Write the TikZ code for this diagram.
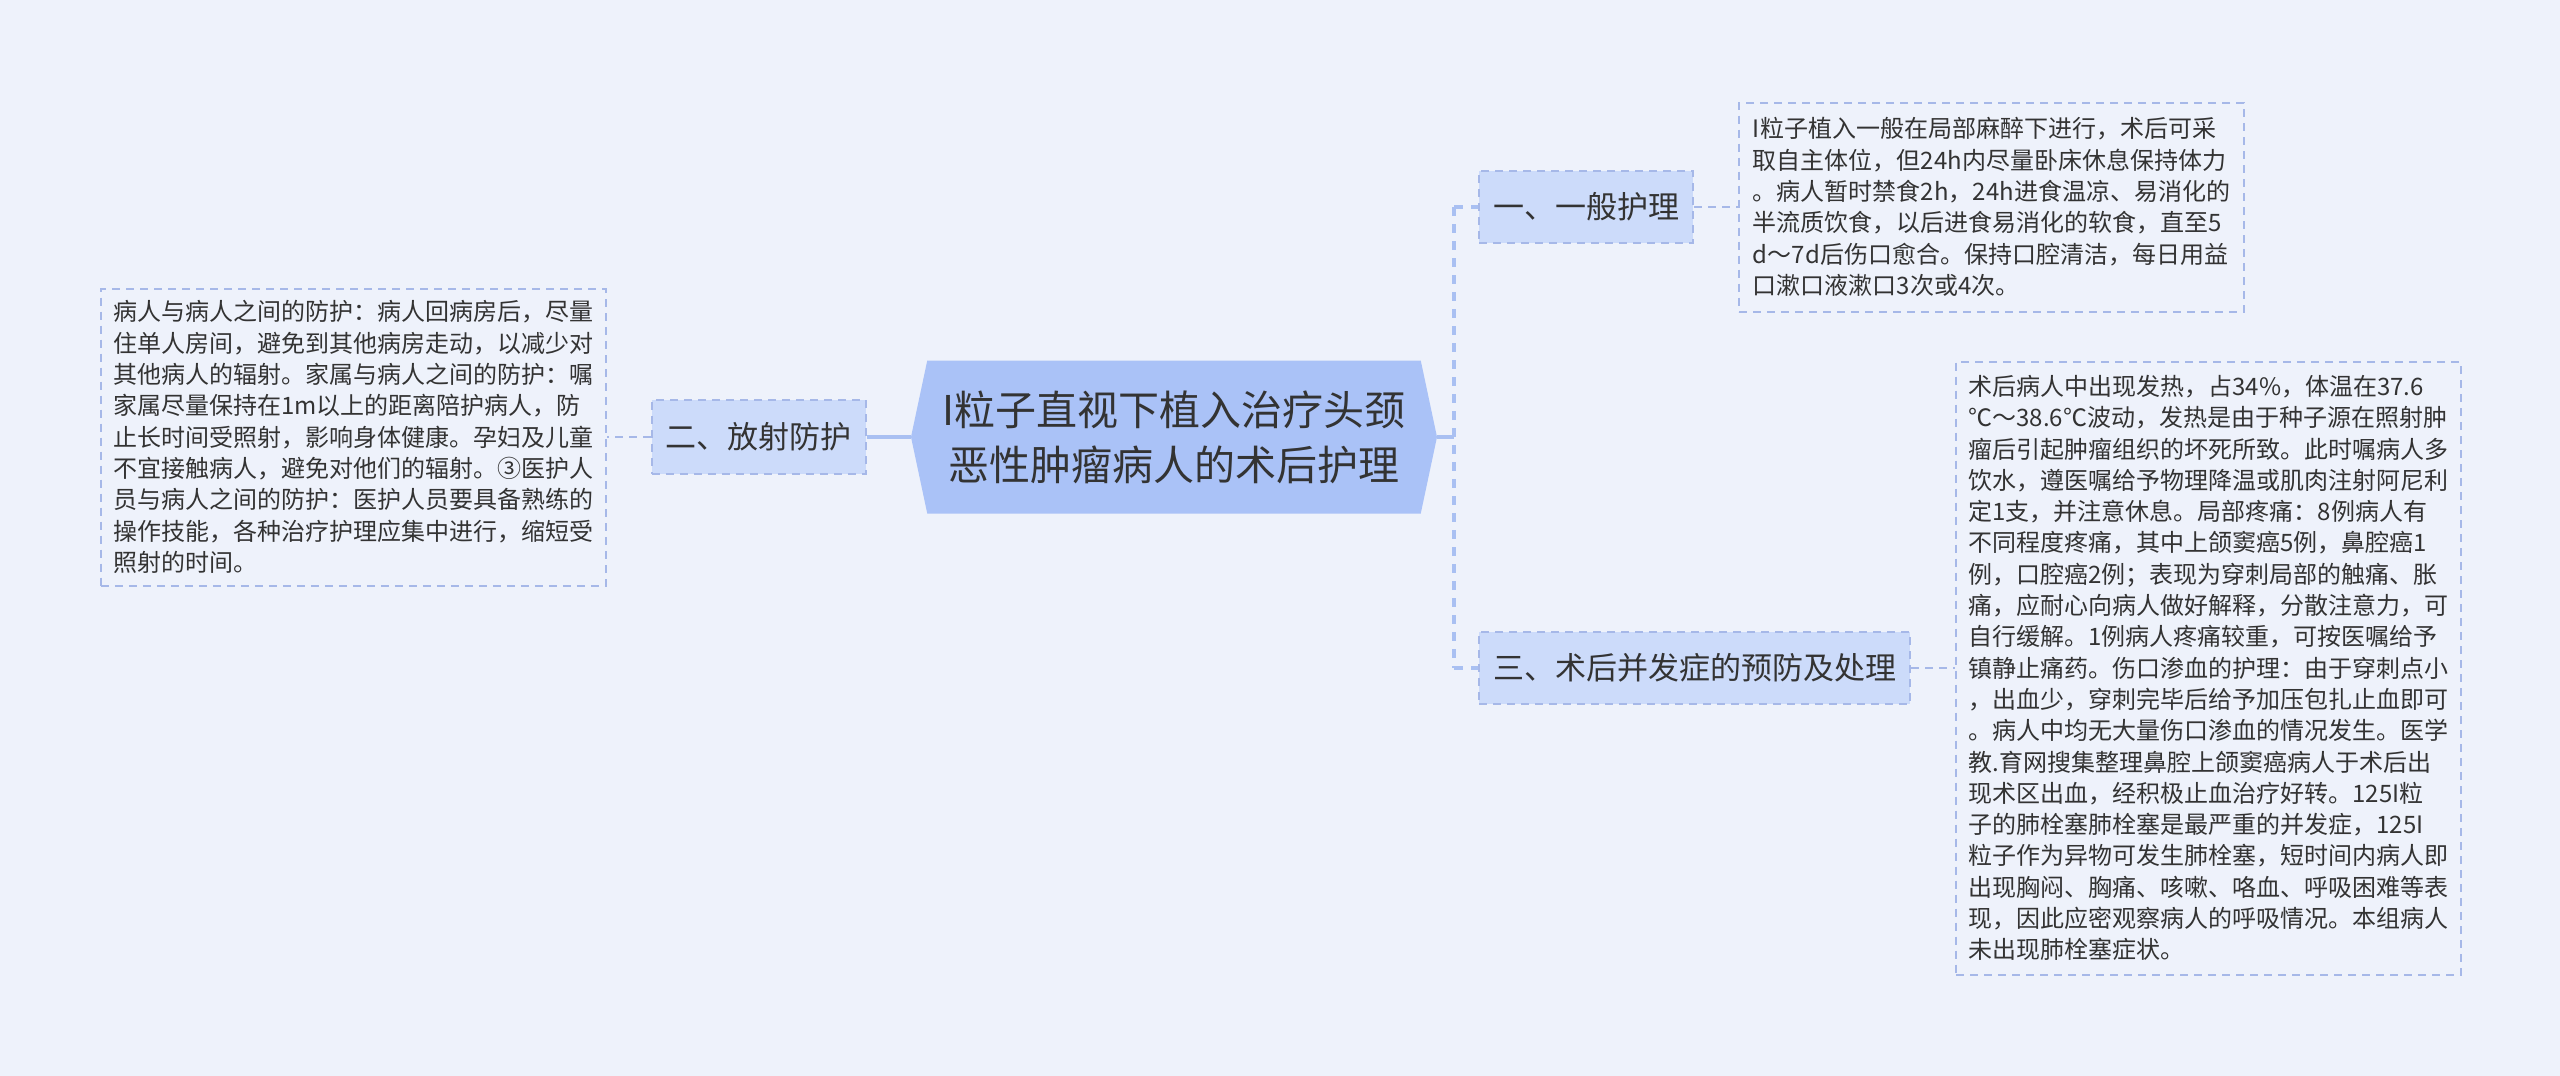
\documentclass[tikz,border=0pt]{standalone}
\usepackage{fontspec}
\setmainfont{Noto Sans CJK SC}
\usetikzlibrary{positioning,shapes.symbols}
\definecolor{bgcol}{HTML}{EEF2FB}
\definecolor{rootcol}{HTML}{AAC2F7}
\definecolor{subcol}{HTML}{CCDBFA}
\definecolor{linecol}{HTML}{A9C0F2}
\definecolor{edgecol}{HTML}{A6B8E8}
\definecolor{inkcol}{HTML}{333333}
\tikzset{
  root/.style={signal, signal to=west and east, signal pointer angle=156,
    fill=rootcol, minimum width=526pt, minimum height=153pt, inner sep=0pt,
    align=center, text=inkcol, font=\fontsize{41}{55}\selectfont},
  branch/.style={draw=edgecol, line width=2pt, dash pattern=on 8pt off 6pt,
    fill=subcol, minimum height=72pt, inner xsep=14pt, text=inkcol,
    font=\fontsize{31}{36}\selectfont},
  leafbox/.style={draw=edgecol, line width=2pt, dash pattern=on 8pt off 6pt,
    minimum width=505pt, inner xsep=12pt, align=left, text=inkcol,
    font=\fontsize{24}{31.3}\selectfont},
  trunk/.style={draw=linecol, line width=3.5pt},
  spinedash/.style={draw=linecol, line width=3.5pt, dash pattern=on 9pt off 8pt},
  twig/.style={draw=edgecol, line width=2pt, dash pattern=on 8pt off 6pt}
}
\begin{document}
\begin{tikzpicture}[x=1pt,y=-1pt]
\path[use as bounding box, fill=bgcol] (0,0) rectangle (2560,1076);
\node[root] (title) at (1174,437) {I粒子直视下植入治疗头颈\\恶性肿瘤病人的术后护理};
\node[branch, minimum height=74pt, left=44pt of title] (fangshe) {二、放射防护};
\node[branch, anchor=west] (yiban) at (1478,207) {一、一般护理};
\node[branch, anchor=west] (bingfa) at (1478,668) {三、术后并发症的预防及处理};
\node[leafbox, minimum height=297pt, left=44pt of fangshe] (fangshetxt) {病人与病人之间的防护：病人回病房后，尽量\\
住单人房间，避免到其他病房走动，以减少对\\
其他病人的辐射。家属与病人之间的防护：嘱\\
家属尽量保持在1m以上的距离陪护病人，防\\
止长时间受照射，影响身体健康。孕妇及儿童\\
不宜接触病人，避免对他们的辐射。③医护人\\
员与病人之间的防护：医护人员要具备熟练的\\
操作技能，各种治疗护理应集中进行，缩短受\\
照射的时间。};
\node[leafbox, minimum height=209pt, right=44pt of yiban] (yibantxt) {I粒子植入一般在局部麻醉下进行，术后可采\\
取自主体位，但24h内尽量卧床休息保持体力\\
。病人暂时禁食2h，24h进食温凉、易消化的\\
半流质饮食，以后进食易消化的软食，直至5\\
d～7d后伤口愈合。保持口腔清洁，每日用益\\
口漱口液漱口3次或4次。};
\node[leafbox, minimum height=613pt, right=44pt of bingfa] (bingfatxt) {术后病人中出现发热，占34\%，体温在37.6\\
℃～38.6℃波动，发热是由于种子源在照射肿\\
瘤后引起肿瘤组织的坏死所致。此时嘱病人多\\
饮水，遵医嘱给予物理降温或肌肉注射阿尼利\\
定1支，并注意休息。局部疼痛：8例病人有\\
不同程度疼痛，其中上颌窦癌5例，鼻腔癌1\\
例，口腔癌2例；表现为穿刺局部的触痛、胀\\
痛，应耐心向病人做好解释，分散注意力，可\\
自行缓解。1例病人疼痛较重，可按医嘱给予\\
镇静止痛药。伤口渗血的护理：由于穿刺点小\\
，出血少，穿刺完毕后给予加压包扎止血即可\\
。病人中均无大量伤口渗血的情况发生。医学\\
教.育网搜集整理鼻腔上颌窦癌病人于术后出\\
现术区出血，经积极止血治疗好转。125I粒\\
子的肺栓塞肺栓塞是最严重的并发症，125I\\
粒子作为异物可发生肺栓塞，短时间内病人即\\
出现胸闷、胸痛、咳嗽、咯血、呼吸困难等表\\
现，因此应密观察病人的呼吸情况。本组病人\\
未出现肺栓塞症状。};
\coordinate (spine) at (1454,437);
\draw[trunk] (title.west) -- (fangshe.east);
\draw[trunk] (title.east) -- (spine);
\draw[spinedash] (spine |- yiban.west) -- (spine |- bingfa.west);
\draw[spinedash] (spine |- yiban.west) -- (yiban.west);
\draw[spinedash] (spine |- bingfa.west) -- (bingfa.west);
\draw[twig] (fangshe.west) -- (fangshetxt.east);
\draw[twig] (yiban.east) -- (yibantxt.west);
\draw[twig] (bingfa.east) -- (bingfatxt.west);
\end{tikzpicture}
\end{document}
